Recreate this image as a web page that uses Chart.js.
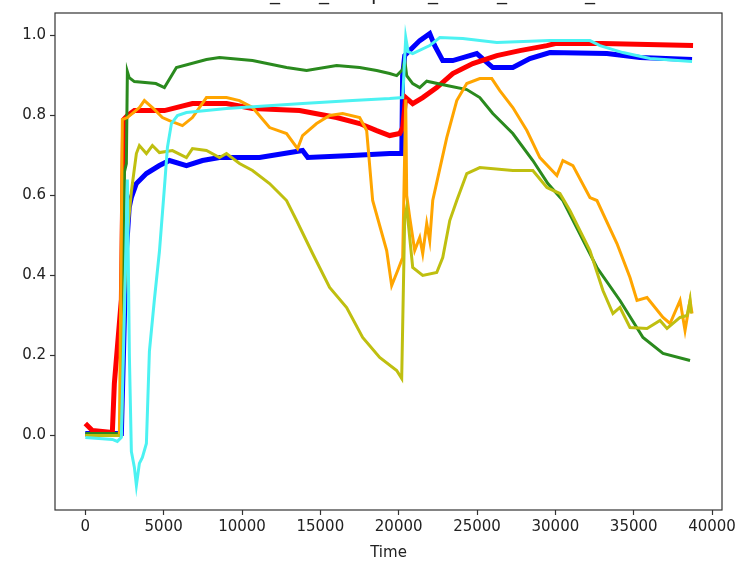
<!DOCTYPE html>
<html lang="en">
<head>
<meta charset="UTF-8">
<title>Time series</title>
<script src="https://cdn.jsdelivr.net/npm/chart.js@4.4.1/dist/chart.umd.min.js"></script>
<style>
    body { margin: 0; background: #fff; }
    #wrap { width: 741px; height: 562px; }
</style>
</head>
<body>
<div id="wrap"><canvas id="chart" width="741" height="562"></canvas></div>
<script>
// tick labels
const xTicks = [0, 5000, 10000, 15000, 20000, 25000, 30000, 35000, 40000];
const yTicks = [0.0, 0.2, 0.4, 0.6, 0.8, 1.0];

// series (time, value)
const blueT = [0, 2300, 2600, 2800, 2939, 3259, 3898, 4729, 5368, 6454, 7476, 8563, 11119, 13866, 14200, 17000, 19426, 20200, 20250, 20384, 20895, 21343, 21982, 22301, 22812, 23451, 24985, 26007, 27285, 28372, 29650, 33292, 35401, 38723];
const blueV = [0.005, 0.005, 0.45, 0.57, 0.595, 0.63, 0.655, 0.675, 0.6875, 0.675, 0.6875, 0.695, 0.695, 0.7125, 0.695, 0.70, 0.705, 0.705, 0.90, 0.95, 0.97, 0.9875, 1.005, 0.975, 0.9375, 0.9375, 0.955, 0.92, 0.92, 0.9425, 0.9575, 0.955, 0.945, 0.94];

const redT = [0, 447, 1725, 1853, 2045, 2300, 2450, 2684, 3131, 5048, 6837, 9010, 10671, 13675, 16039, 17509, 18595, 19426, 20065, 20256, 20448, 20895, 21534, 22429, 23451, 24729, 26263, 27733, 29458, 30000, 33000, 38787];
const redV = [0.03, 0.0125, 0.0075, 0.13, 0.22, 0.34, 0.79, 0.80, 0.8125, 0.8125, 0.83, 0.83, 0.8175, 0.8125, 0.795, 0.78, 0.7625, 0.75, 0.755, 0.77, 0.845, 0.83, 0.845, 0.87, 0.905, 0.93, 0.95, 0.9625, 0.975, 0.98, 0.98, 0.975];

const greenT = [0, 2300, 2500, 2620, 2684, 2800, 3131, 4500, 5048, 5815, 7732, 8563, 10671, 12844, 14122, 16039, 17509, 18595, 19426, 19873, 20256, 20384, 20512, 20895, 21343, 21790, 23068, 24346, 25177, 26007, 27285, 28563, 29522, 30480, 32653, 34123, 35592, 36870, 38596];
const greenV = [0.005, 0.005, 0.66, 0.68, 0.91, 0.895, 0.885, 0.88, 0.87, 0.92, 0.94, 0.945, 0.9375, 0.92, 0.9125, 0.925, 0.92, 0.9125, 0.905, 0.90, 0.915, 0.94, 0.90, 0.88, 0.87, 0.886, 0.875, 0.865, 0.845, 0.805, 0.755, 0.6875, 0.63, 0.5875, 0.42, 0.3375, 0.245, 0.205, 0.1875];

const orangeT = [0, 2173, 2300, 2364, 2684, 3451, 3770, 4281, 4920, 5368, 6198, 6837, 7732, 9010, 9841, 10671, 11758, 12844, 13547, 13866, 14761, 15592, 16422, 17509, 17956, 18339, 19234, 19553, 19937, 20256, 20448, 20512, 20704, 21023, 21343, 21534, 21790, 21982, 22173, 23068, 23707, 24346, 25177, 25943, 26455, 27285, 28180, 29011, 30097, 30480, 31119, 32206, 32653, 33931, 34762, 35209, 35848, 36870, 37318, 37957, 38276, 38596, 38723];
const orangeV = [0.0, 0.0, 0.5, 0.79, 0.795, 0.82, 0.8375, 0.82, 0.795, 0.7875, 0.775, 0.795, 0.845, 0.845, 0.8375, 0.82, 0.77, 0.755, 0.7175, 0.75, 0.78, 0.80, 0.805, 0.795, 0.7625, 0.5875, 0.4625, 0.375, 0.4125, 0.445, 0.84, 0.60, 0.545, 0.4625, 0.495, 0.455, 0.53, 0.4875, 0.5875, 0.745, 0.8375, 0.88, 0.8925, 0.8925, 0.8625, 0.82, 0.7625, 0.695, 0.65, 0.6875, 0.675, 0.595, 0.5875, 0.48, 0.395, 0.3375, 0.345, 0.295, 0.28, 0.3375, 0.2625, 0.3375, 0.305];

const oliveT = [0, 2300, 2428, 2684, 2939, 3259, 3451, 3898, 4281, 4729, 5559, 6454, 6837, 7732, 8563, 9010, 9841, 10671, 11758, 12397, 12844, 13483, 14505, 15592, 16678, 17700, 18787, 19873, 20192, 20384, 20512, 20895, 21534, 22429, 22812, 23260, 23707, 24346, 25177, 27285, 28563, 29458, 30289, 30928, 32206, 33036, 33675, 34123, 34762, 35848, 36679, 37126, 37957, 38404, 38596, 38660];
const oliveV = [0.0, 0.0, 0.29, 0.505, 0.61, 0.705, 0.725, 0.705, 0.725, 0.7075, 0.7125, 0.695, 0.7175, 0.7125, 0.695, 0.705, 0.68, 0.6625, 0.63, 0.605, 0.5875, 0.5375, 0.455, 0.37, 0.32, 0.245, 0.195, 0.1625, 0.1425, 0.545, 0.57, 0.42, 0.40, 0.4075, 0.445, 0.5375, 0.5875, 0.655, 0.67, 0.6625, 0.6625, 0.62, 0.605, 0.5625, 0.4625, 0.3625, 0.305, 0.32, 0.27, 0.2675, 0.2875, 0.2675, 0.295, 0.30, 0.3375, 0.305];

const cyanT = [0, 1725, 2045, 2300, 2492, 2684, 2812, 2939, 3131, 3259, 3451, 3642, 3898, 4090, 4409, 4729, 5048, 5240, 5495, 5879, 6454, 9010, 13866, 17061, 19426, 20256, 20450, 20600, 20895, 21982, 22621, 24090, 26263, 29650, 32206, 32845, 34314, 36040, 38723];
const cyanV = [-0.005, -0.01, -0.015, -0.005, 0.30, 0.64, 0.20, -0.04, -0.08, -0.125, -0.07, -0.055, -0.02, 0.21, 0.34, 0.46, 0.62, 0.72, 0.78, 0.80, 0.8075, 0.8175, 0.83, 0.8375, 0.8425, 0.845, 0.995, 0.96, 0.955, 0.975, 0.995, 0.9925, 0.9825, 0.9875, 0.9875, 0.975, 0.9575, 0.9425, 0.935];

// ordering bottom -> top
const series = [
    { t: blueT, v: blueV, color: '#0000ff', width: 5 },
    { t: redT, v: redV, color: '#ff0000', width: 5 },
    { t: greenT, v: greenV, color: '#2a8a1e', width: 3 },
    { t: orangeT, v: orangeV, color: '#ffa500', width: 3 },
    { t: oliveT, v: oliveV, color: '#bfbf10', width: 3 },
    { t: cyanT, v: cyanV, color: '#4cf2f2', width: 3 }
];

const datasets = series.map((s, i) => ({
    data: s.t.map((t, k) => ({ x: t, y: s.v[k] })),
    borderColor: s.color,
    borderWidth: s.width,
    pointRadius: 0,
    tension: 0,
    fill: false,
    order: series.length - i
}));

// box round the plot, like the matplotlib spines
const frame = {
    id: 'frame',
    afterDraw(chart) {
        const a = chart.chartArea, c = chart.ctx;
        c.save();
        c.strokeStyle = '#333';
        c.lineWidth = 1.2;
        c.strokeRect(a.left, a.top, a.right - a.left, a.bottom - a.top);
        c.restore();
    }
};

// title is cut off at the top edge, only its lowest bits show
const titleBits = {
    id: 'titleBits',
    afterDraw(chart) {
        const c = chart.ctx;
        c.save();
        c.fillStyle = '#222';
        c.font = '20px "DejaVu Sans"';
        c.textBaseline = 'alphabetic';
        c.textAlign = 'center';
        [275, 324, 433, 502, 590].forEach(x => c.fillText('_', x, 0));
        c.textAlign = 'left';
        c.fillText('p', 371, 0);
        c.restore();
    }
};

const tickFont = { family: '"DejaVu Sans"', size: 15 };

new Chart(document.getElementById('chart'), {
    type: 'line',
    data: { datasets },
    options: {
        responsive: false,
        animation: false,
        layout: { padding: { top: 12, right: 19, left: 0, bottom: 0 } },
        plugins: { legend: { display: false }, tooltip: { enabled: false } },
        scales: {
            x: {
                type: 'linear',
                min: -1935,
                max: 40635,
                afterBuildTicks: s => { s.ticks = xTicks.map(v => ({ value: v })); },
                afterFit: s => { s.height = 52; },
                ticks: { font: tickFont, color: '#222', padding: 3, maxRotation: 0, autoSkip: false, callback: v => String(v) },
                grid: { drawOnChartArea: false, drawTicks: true, tickLength: 5, tickColor: '#333', tickWidth: 1.2 },
                border: { display: false },
                title: { display: true, text: 'Time', font: tickFont, color: '#222', padding: { top: 0, bottom: 0 } }
            },
            y: {
                type: 'linear',
                min: -0.1865,
                max: 1.0565,
                afterBuildTicks: s => { s.ticks = yTicks.map(v => ({ value: v })); },
                afterFit: s => { s.width = 55; },
                ticks: { font: tickFont, color: '#222', padding: 4, callback: v => v.toFixed(1) },
                grid: { drawOnChartArea: false, drawTicks: true, tickLength: 5, tickColor: '#333', tickWidth: 1.2 },
                border: { display: false }
            }
        }
    },
    plugins: [frame, titleBits]
});
</script>
</body>
</html>
